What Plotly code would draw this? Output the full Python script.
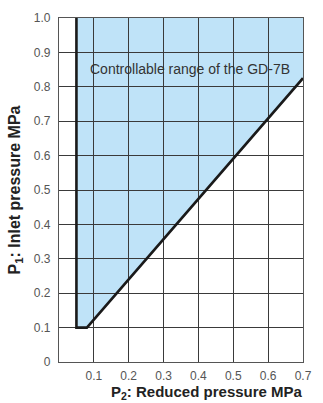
import plotly.graph_objects as go

# Boundary of the controllable range (P2 reduced, P1 inlet), MPa
boundary_p2 = [0.05, 0.05, 0.08, 0.70]
boundary_p1 = [1.00, 0.10, 0.10, 0.825]

# Region (filled) polygon
region_p2 = [0.05, 0.08, 0.70, 0.70, 0.05]
region_p1 = [0.10, 0.10, 0.825, 1.00, 1.00]

x_ticks = [0.1, 0.2, 0.3, 0.4, 0.5, 0.6, 0.7]
x_labels = ["0.1", "0.2", "0.3", "0.4", "0.5", "0.6", "0.7"]
y_ticks = [0, 0.1, 0.2, 0.3, 0.4, 0.5, 0.6, 0.7, 0.8, 0.9, 1.0]
y_labels = ["0", "0.1", "0.2", "0.3", "0.4", "0.5", "0.6", "0.7", "0.8", "0.9", "1.0"]

label_text = "Controllable range of the GD-7B"
x_title = "<b>P<sub>2</sub>: Reduced pressure MPa</b>"
y_title = "<b>P<sub>1</sub>: Inlet pressure MPa</b>"

FONT = "Liberation Sans, Arial, sans-serif"

path = "M " + " L ".join(f"{x},{y}" for x, y in zip(region_p2, region_p1)) + " Z"

fig = go.Figure()
fig.add_trace(go.Scatter(
    x=boundary_p2, y=boundary_p1, mode="lines",
    line=dict(color="#1a1a1a", width=2.6),
    hoverinfo="skip", showlegend=False,
))

fig.update_layout(
    width=323, height=403,
    margin=dict(l=59, r=13, t=11, b=41),
    paper_bgcolor="white", plot_bgcolor="white",
    font=dict(family=FONT, color="#444", size=12),
    shapes=[dict(type="path", path=path, xref="x", yref="y",
                 fillcolor="#bfe3f8", line=dict(width=0), layer="below")],
    annotations=[
        dict(x=0.375, y=0.852, xref="x", yref="y", text=label_text,
             showarrow=False, font=dict(size=14, color="#333", family=FONT)),
        dict(x=1.01, y=-0.088, xref="paper", yref="paper", text=x_title,
             xanchor="right", yanchor="middle", showarrow=False,
             font=dict(size=15, color="#222", family=FONT)),
    ],
    xaxis=dict(range=[0, 0.7], tickvals=x_ticks, ticktext=x_labels,
               showgrid=True, gridcolor="#3a3a3a", gridwidth=1,
               showline=True, linecolor="#555", linewidth=1.2, mirror=True,
               zeroline=False, ticks="", tickfont=dict(size=12, color="#555"),
               ticklabelstandoff=2,
               fixedrange=True),
    yaxis=dict(range=[0, 1.0], tickvals=y_ticks, ticktext=y_labels,
               showgrid=True, gridcolor="#3a3a3a", gridwidth=1,
               showline=True, linecolor="#555", linewidth=1.2, mirror=True,
               zeroline=False, ticks="", tickfont=dict(size=12, color="#555"),
               ticklabelstandoff=5,
               title=dict(text=y_title, font=dict(size=16, color="#222"), standoff=9),
               fixedrange=True),
)

fig.write_html("out.html", config=dict(displayModeBar=False))
